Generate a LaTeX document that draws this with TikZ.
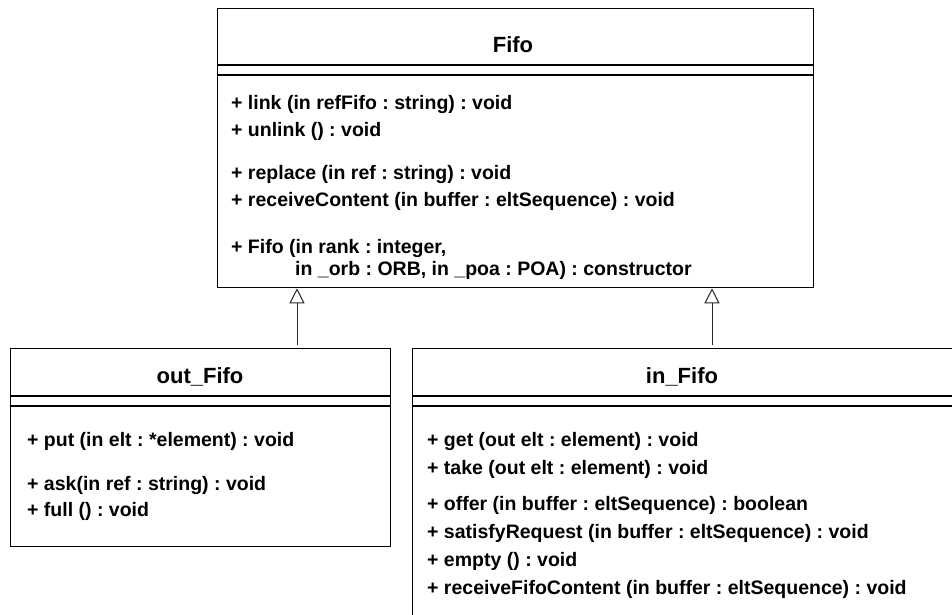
\documentclass[tikz,border=0pt]{standalone}
\usepackage{fontspec}
\setmainfont{Liberation Sans}
\usetikzlibrary{arrows.meta,calc}
\frenchspacing

\tikzset{
  classbox/.style={draw=black, line width=1.3pt, rectangle, anchor=north west, inner sep=0pt},
  sepline/.style={draw=black, line width=1.3pt},
  classname/.style={font=\bfseries\fontsize{22}{26}\selectfont, anchor=base, inner sep=0pt},
  op/.style={font=\bfseries\fontsize{19.5}{23}\selectfont, anchor=base west, inner sep=0pt},
  inherit/.style={draw=black!85, line width=1pt, -{Triangle[open, length=15pt, width=15pt, line width=1pt]}},
}

\begin{document}
\begin{tikzpicture}[x=1pt, y=-1pt]
  \useasboundingbox (0,0) rectangle (952,615);
  \clip (0,0) rectangle (952,615);

  % --- base class -------------------------------------------------------
  \node[classbox, minimum width=596pt, minimum height=279pt] (fifo) at (217,8) {};
  \draw[sepline] ([yshift=-57pt]fifo.north west) -- ([yshift=-57pt]fifo.north east);
  \draw[sepline] ([yshift=-67pt]fifo.north west) -- ([yshift=-67pt]fifo.north east);
  \node[classname] (fifoname) at (513,53) {Fifo};
  \node[op] (f1) at (231,110) {+ link (in refFifo : string) : void};
  \node[op] (f2) at (231,136) {+ unlink () : void};
  \node[op] (f3) at (231,179) {+ replace (in ref : string) : void};
  \node[op] (f4) at (231,206) {+ receiveContent (in buffer : eltSequence) : void};
  \node[op] (f5) at (231,253) {+ Fifo (in rank : integer,};
  \node[op] (f6) at (295,275) {in \_orb : ORB, in \_poa : POA) : constructor};

  % --- out_Fifo ---------------------------------------------------------
  \node[classbox, minimum width=380pt, minimum height=198pt] (outf) at (10,348) {};
  \draw[sepline] ([yshift=-48pt]outf.north west) -- ([yshift=-48pt]outf.north east);
  \draw[sepline] ([yshift=-58pt]outf.north west) -- ([yshift=-58pt]outf.north east);
  \node[classname] (outname) at (200,383) {out\_Fifo};
  \node[op] (o1) at (27,446) {+ put (in elt : *element) : void};
  \node[op] (o2) at (27,490) {+ ask(in ref : string) : void};
  \node[op] (o3) at (27,516) {+ full () : void};

  % --- in_Fifo ----------------------------------------------------------
  \node[classbox, minimum width=542pt, minimum height=290pt] (inf) at (412,348) {};
  \draw[sepline] ([yshift=-48pt]inf.north west) -- ([yshift=-48pt]inf.north east);
  \draw[sepline] ([yshift=-58pt]inf.north west) -- ([yshift=-58pt]inf.north east);
  \node[classname] (inname) at (682,383) {in\_Fifo};
  \node[op] (i1) at (427,446) {+ get (out elt : element) : void};
  \node[op] (i2) at (427,474) {+ take (out elt : element) : void};
  \node[op] (i3) at (427,510) {+ offer (in buffer : eltSequence) : boolean};
  \node[op] (i4) at (427,538) {+ satisfyRequest (in buffer : eltSequence) : void};
  \node[op] (i5) at (427,566) {+ empty () : void};
  \node[op] (i6) at (427,594) {+ receiveFifoContent (in buffer : eltSequence) : void};

  % --- generalisation arrows ----------------------------------------------
  \coordinate (outtop) at (297,345);
  \coordinate (intop) at (712,345);
  \draw[inherit] (outtop) -- (outtop |- fifo.south);
  \draw[inherit] (intop) -- (intop |- fifo.south);
\end{tikzpicture}
\end{document}
